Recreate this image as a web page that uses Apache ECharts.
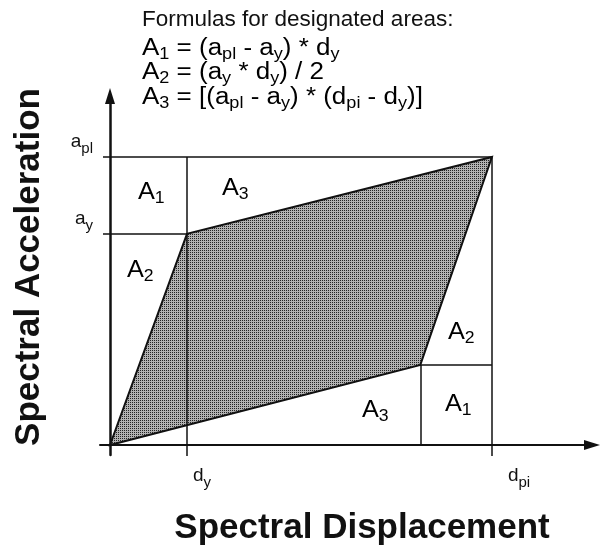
<!DOCTYPE html>
<html>
<head>
<meta charset="utf-8">
<script src="https://cdn.jsdelivr.net/npm/echarts@6/dist/echarts.min.js"></script>
<style>
  html, body { margin: 0; padding: 0; background: #fff; }
  #chart { width: 603px; height: 550px; }
</style>
</head>
<body>
<div id="chart"></div>
<script>
// Marked displacements (d_y, d_pi) and accelerations (a_y, a_pl)
const dispMarks = [1.0, 4.96];
const dispMarkLabels = ['d_{y}', 'd_{pi}'];
const accMarks = [0.733, 1.0];
const accMarkLabels = ['a_{y}', 'a_{pl}'];

// Shaded parallelogram: origin, yield point, peak point, lower-right corner
const polyDisp = [0, 1.0, 4.96, 4.03];
const polyAcc = [0, 0.733, 1.0, 0.278];

// Area annotations and the formulas shown above the plot
const areaNames = ['A_{1}', 'A_{3}', 'A_{2}', 'A_{2}', 'A_{3}', 'A_{1}'];
const formulaTitle = 'Formulas for designated areas:';
const formulaLines = [
  'A_{1} = (a_{pl} - a_{y}) * d_{y}',
  'A_{2} = (a_{y} * d_{y}) / 2',
  'A_{3} = [(a_{pl} - a_{y}) * (d_{pi} - d_{y})]'
];

const FONT = "'Liberation Sans', Arial, Helvetica, sans-serif";
const INK = '#111';

// Turn "x_{sub}" markup into ECharts rich-text tokens
function toRich(s, base, sub) {
  return s.split(/(_\{[^}]*\})/).filter(p => p.length).map(p =>
    p.startsWith('_{') ? '{' + sub + '|' + p.slice(2, -1) + '}' : '{' + base + '|' + p + '}'
  ).join('');
}
function richStyles(size, subSize, lh) {
  return {
    n: { fontFamily: FONT, fontSize: size, lineHeight: lh, color: INK, verticalAlign: 'middle' },
    s: { fontFamily: FONT, fontSize: subSize, lineHeight: Math.round(lh / 2), color: INK, verticalAlign: 'bottom' }
  };
}
function nearestIndex(arr, v) {
  let best = 0;
  arr.forEach((a, i) => { if (Math.abs(a - v) < Math.abs(arr[best] - v)) best = i; });
  return best;
}

// Fine stipple used for the shaded area
function stipple() {
  const c = document.createElement('canvas');
  c.width = 2; c.height = 2;
  const g = c.getContext('2d');
  g.fillStyle = '#b2b2b2'; g.fillRect(0, 0, 2, 2);
  g.fillStyle = '#242424'; g.fillRect(0, 0, 1, 1);
  return { image: c, repeat: 'repeat' };
}

const [dY, dPI] = dispMarks;
const [aY, aPI] = accMarks;
const dE = polyDisp[3], aE = polyAcc[3];

// Guide lines that split the plot into the A1/A2/A3 areas
const guideSegments = [
  [[0, aPI], [dPI, aPI]],
  [[0, aY], [dY, aY]],
  [[dY, aPI], [dY, 0]],
  [[dPI, aPI], [dPI, 0]],
  [[dE, aE], [dPI, aE]],
  [[dE, aE], [dE, 0]]
];

// Label placement (pixels): left edge of "A" and its vertical centre
const areaLabelPos = [[138, 193], [222, 189], [127, 271], [448, 333], [362, 411], [445, 405]];
const formulaTitlePos = [142, 19.5];
const formulaPos = [[142, 48.5], [142, 73], [142, 98]];

const xLabelShift = [6, 16];

const chart = echarts.init(document.getElementById('chart'), null, { renderer: 'canvas' });

const graphics = [];
graphics.push({
  type: 'text', x: formulaTitlePos[0], y: formulaTitlePos[1], silent: true,
  style: { text: formulaTitle, font: '22.5px ' + FONT, fill: INK, textAlign: 'left', textVerticalAlign: 'middle' }
});
formulaLines.forEach((line, i) => {
  graphics.push({
    type: 'text', x: formulaPos[i][0], y: formulaPos[i][1] - 14, scaleX: 1.13, silent: true,
    style: { text: toRich(line, 'n', 's'), rich: richStyles(23, 16, 28), textVerticalAlign: 'top', textAlign: 'left' }
  });
});
areaNames.forEach((name, i) => {
  graphics.push({
    type: 'text', x: areaLabelPos[i][0], y: areaLabelPos[i][1] - 14, scaleX: 1.1, silent: true,
    style: { text: toRich(name, 'n', 's'), rich: richStyles(23, 16, 28), textVerticalAlign: 'top', textAlign: 'left' }
  });
});
graphics.push({
  type: 'text', x: 362, y: 528, silent: true,
  style: { text: 'Spectral Displacement', font: 'bold 35px ' + FONT, fill: INK, textAlign: 'center', textVerticalAlign: 'middle' }
});
graphics.push({
  type: 'text', x: 29, y: 267, rotation: Math.PI / 2, silent: true,
  style: { text: 'Spectral Acceleration', font: 'bold 35px ' + FONT, fill: INK, textAlign: 'center', textVerticalAlign: 'middle' }
});

const xRich = richStyles(19, 15, 28);
xLabelShift.forEach((w, i) => { xRich['g' + i] = { width: w, fontSize: 10 }; });

chart.setOption({
  animation: false,
  backgroundColor: '#fff',
  grid: { left: 100, right: 11, top: 96, bottom: 95, containLabel: false },
  xAxis: {
    type: 'value', min: -10 / 77, max: 482 / 77,
    splitLine: { show: false },
    axisLine: { onZero: true, symbol: ['none', 'triangle'], symbolSize: [10, 16], lineStyle: { color: INK, width: 2 } },
    axisTick: { customValues: dispMarks, length: 11, lineStyle: { color: INK, width: 1.5 } },
    axisLabel: {
      customValues: dispMarks, margin: 7, align: 'left', verticalAlign: 'top',
      formatter: v => { const i = nearestIndex(dispMarks, v); return '{g' + i + '| }' + toRich(dispMarkLabels[i], 'n', 's'); },
      rich: xRich
    }
  },
  yAxis: {
    type: 'value', min: -10 / 288, max: 349 / 288,
    splitLine: { show: false },
    axisLine: { onZero: true, symbol: ['none', 'triangle'], symbolSize: [10, 16], lineStyle: { color: INK, width: 2.5 } },
    axisTick: { customValues: accMarks, length: 7, lineStyle: { color: INK, width: 1.5 } },
    axisLabel: {
      customValues: accMarks, margin: 7, align: 'right', verticalAlign: 'bottom', padding: [0, 0, 1, 0],
      formatter: v => toRich(accMarkLabels[nearestIndex(accMarks, v)], 'n', 's'),
      rich: richStyles(19, 15, 28)
    }
  },
  series: [
    {
      type: 'custom', z: 2, silent: true,
      data: [0],
      renderItem: (params, api) => ({
        type: 'polygon',
        shape: { points: polyDisp.map((d, i) => api.coord([d, polyAcc[i]])) },
        style: { fill: stipple(), stroke: INK, lineWidth: 2 }
      })
    },
    {
      type: 'lines', coordinateSystem: 'cartesian2d', z: 3, silent: true,
      lineStyle: { color: INK, width: 1.5, opacity: 1 },
      data: guideSegments.map(c => ({ coords: c }))
    }
  ],
  graphic: graphics
});
</script>
</body>
</html>
